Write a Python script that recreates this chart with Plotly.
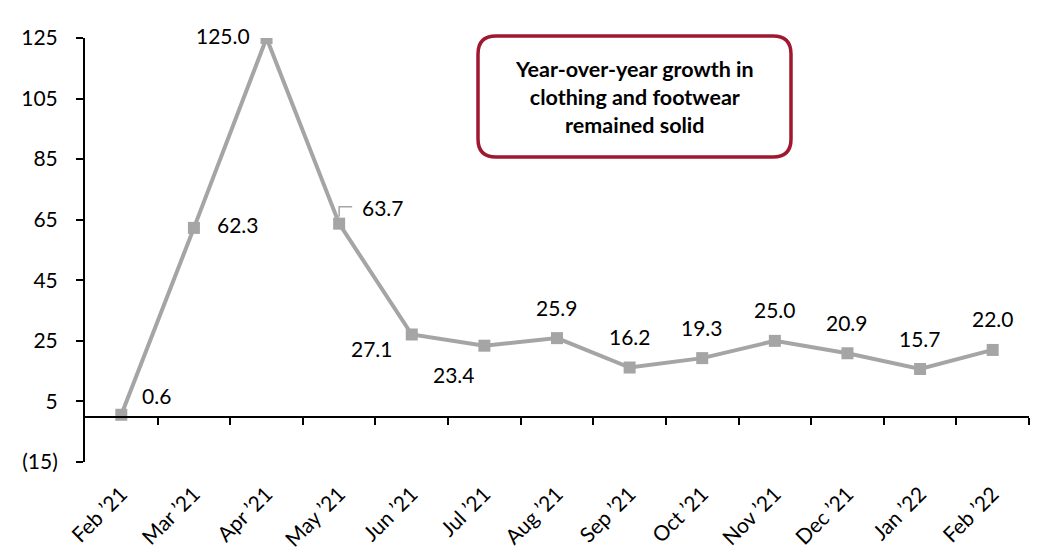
import plotly.graph_objects as go

months = ["Feb \u201921", "Mar \u201921", "Apr \u201921", "May \u201921", "Jun \u201921", "Jul \u201921",
          "Aug \u201921", "Sep \u201921", "Oct \u201921", "Nov \u201921", "Dec \u201921", "Jan \u201922", "Feb \u201922"]
growth = [0.6, 62.3, 125.0, 63.7, 27.1, 23.4, 25.9, 16.2, 19.3, 25.0, 20.9, 15.7, 22.0]
y_tickvals = [-15, 5, 25, 45, 65, 85, 105, 125]
y_ticktext = ["(15)", "5", "25", "45", "65", "85", "105", "125"]
box_text = "Year-over-year growth in<br>clothing and footwear<br>remained solid"

W, H = 1037, 557
L, R, T, B = 85, 8, 38, 95
pw, ph = W - L - R, H - T - B

FONT = "Lato, Open Sans, sans-serif"
GRAY = "#A5A5A5"

fig = go.Figure()
fig.add_trace(go.Scatter(
    x=list(range(len(months))), y=growth, mode="lines+markers",
    line=dict(color=GRAY, width=4),
    marker=dict(symbol="square", size=12, color=GRAY),
    hoverinfo="skip", showlegend=False,
))

# label placements: (xanchor, yanchor, xshift, yshift)
place = [
    ("left", "middle", 19, 19),
    ("left", "middle", 21, 3),
    ("right", "middle", -15, 3),
    ("left", "middle", 21, 16),
    ("right", "middle", -17, -14),
    ("center", "middle", -30, -29),
    ("center", "middle", 0, 31),
    ("center", "middle", 0, 31),
    ("center", "middle", 0, 31),
    ("center", "middle", 0, 31),
    ("center", "middle", 0, 31),
    ("center", "middle", 0, 31),
    ("center", "middle", 0, 31),
]
for i, v in enumerate(growth):
    xa, ya, xs, ys = place[i]
    fig.add_annotation(x=i, y=v, xref="x", yref="y", text=f"{v:.1f}", showarrow=False,
                       xanchor=xa, yanchor=ya, xshift=xs, yshift=ys,
                       font=dict(family=FONT, size=21, color="black"))

# leader line for May '21 label
fig.add_shape(type="path", xref="x", yref="y", xsizemode="pixel", ysizemode="pixel",
              xanchor=3, yanchor=growth[3], path="M0,7 L0,17 L13,17",
              line=dict(color=GRAY, width=1.5))

# rounded callout box (pixel -> paper)
def px(xp):
    return (xp - L) / pw

def py(yp):
    return (H - B - yp) / ph

x0, x1, y0, y1, r = 478, 791, 36, 157, 18
path = (f"M{px(x0 + r)},{py(y0)} L{px(x1 - r)},{py(y0)} Q{px(x1)},{py(y0)} {px(x1)},{py(y0 + r)} "
        f"L{px(x1)},{py(y1 - r)} Q{px(x1)},{py(y1)} {px(x1 - r)},{py(y1)} "
        f"L{px(x0 + r)},{py(y1)} Q{px(x0)},{py(y1)} {px(x0)},{py(y1 - r)} "
        f"L{px(x0)},{py(y0 + r)} Q{px(x0)},{py(y0)} {px(x0 + r)},{py(y0)} Z")
fig.add_shape(type="path", xref="paper", yref="paper", path=path,
              line=dict(color="#A0182F", width=3.5), fillcolor="white", layer="below")
fig.add_annotation(x=px((x0 + x1) / 2), y=py((y0 + y1) / 2), xref="paper", yref="paper",
                   xanchor="center", yanchor="middle",
                   text=f"<b>{box_text}</b>", showarrow=False, align="center",
                   font=dict(family=FONT, size=21.5, color="black"))

zero_pos = (0 - (-15)) / (125 - (-15))

fig.update_layout(
    width=W, height=H, margin=dict(l=L, r=R, t=T, b=B, autoexpand=False),
    plot_bgcolor="white", paper_bgcolor="white",
    xaxis=dict(
        range=[-0.5, len(months) - 0.5], tickmode="array",
        tickvals=list(range(len(months))), ticktext=months, tickangle=-45,
        anchor="free", position=zero_pos,
        showline=True, linecolor="black", linewidth=2,
        ticks="", showgrid=False, zeroline=False,
        ticklabelstandoff=56,
        tickfont=dict(family=FONT, size=21, color="black"),
        automargin=False,
    ),
    xaxis2=dict(
        range=[-0.5, len(months) - 0.5], overlaying="x", anchor="free", position=zero_pos,
        tickmode="array", tickvals=[i + 0.5 for i in range(len(months))],
        ticks="outside", ticklen=7, tickwidth=2, tickcolor="black",
        showticklabels=False, showline=False, showgrid=False, zeroline=False,
    ),
    yaxis=dict(
        range=[-15, 125], tickmode="array", tickvals=y_tickvals, ticktext=y_ticktext,
        showline=True, linecolor="black", linewidth=2,
        ticks="outside", ticklen=7, tickwidth=2, tickcolor="black",
        showgrid=False, zeroline=False,
        ticklabelstandoff=14,
        tickfont=dict(family=FONT, size=21, color="black"),
        automargin=False,
    ),
)
fig.add_trace(go.Scatter(x=[-0.5], y=[None], xaxis="x2", hoverinfo="skip", showlegend=False))

fig.write_html("out.html")
